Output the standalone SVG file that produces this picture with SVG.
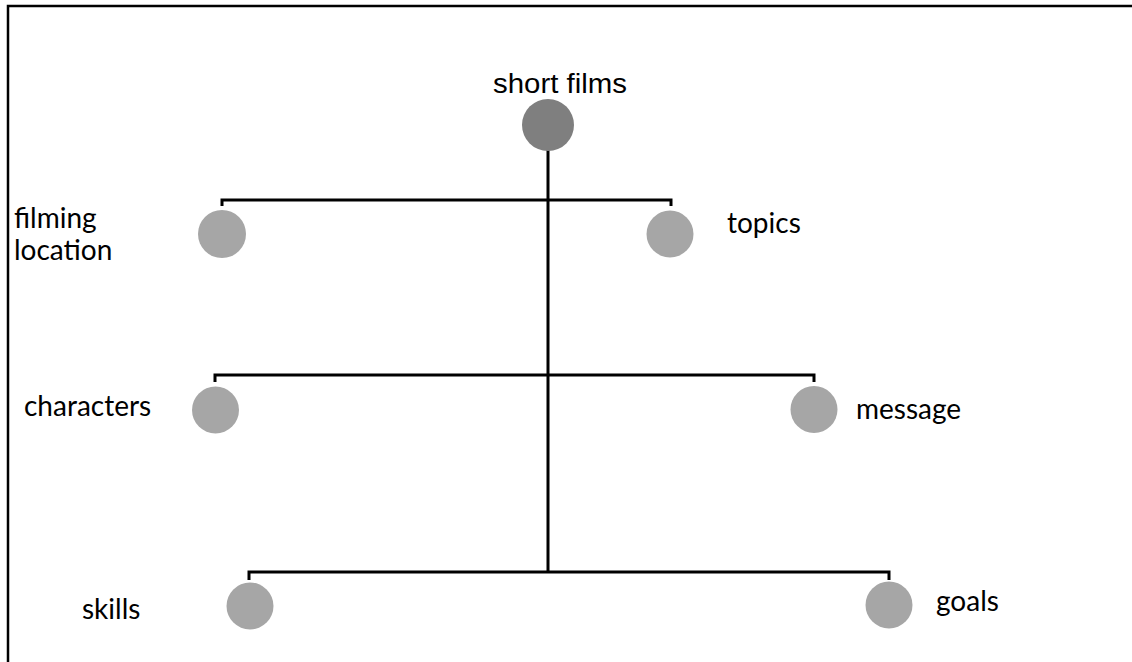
<svg xmlns="http://www.w3.org/2000/svg" width="1132" height="662" viewBox="0 0 1132 662">
<style>
.lbl{font-family:Lato,"Open Sans","Liberation Sans",sans-serif;font-size:28px;fill:#000}
.root{font-family:"Liberation Sans",Arial,sans-serif;font-size:27px;fill:#000}
.child{fill:#a6a6a6}
.conn{fill:none;stroke:#000;stroke-width:3}
</style>
<rect x="0" y="0" width="1132" height="662" fill="#fff"/>
<rect x="8" y="6" width="1140" height="680" fill="none" stroke="#000" stroke-width="2.5"/>
<g id="connectors">
<path class="conn" d="M548 150 V572"/>
<path class="conn" d="M222 206 V200 H671 V206"/>
<path class="conn" d="M215 382 V375 H814 V382"/>
<path class="conn" d="M249 580 V572 H889 V580"/>
</g>
<g id="short-films"><circle cx="548" cy="125" r="26" fill="#7f7f7f"/><text class="root" x="560" y="93" text-anchor="middle" textLength="134" lengthAdjust="spacingAndGlyphs">short films</text></g>
<g id="filming-location"><circle class="child" cx="222" cy="234" r="24"/><text class="lbl" x="14" y="228">filming</text><text class="lbl" x="14" y="260">location</text></g>
<g id="topics"><circle class="child" cx="670" cy="234" r="23.5"/><text class="lbl" x="727" y="233">topics</text></g>
<g id="characters"><circle class="child" cx="215.5" cy="410" r="23.5"/><text class="lbl" x="24" y="416">characters</text></g>
<g id="message"><circle class="child" cx="814" cy="409.5" r="23.5"/><text class="lbl" x="856" y="419">message</text></g>
<g id="skills"><circle class="child" cx="250" cy="606" r="23.5"/><text class="lbl" x="82" y="619">skills</text></g>
<g id="goals"><circle class="child" cx="889" cy="605" r="23.5"/><text class="lbl" x="936" y="611">goals</text></g>
</svg>
